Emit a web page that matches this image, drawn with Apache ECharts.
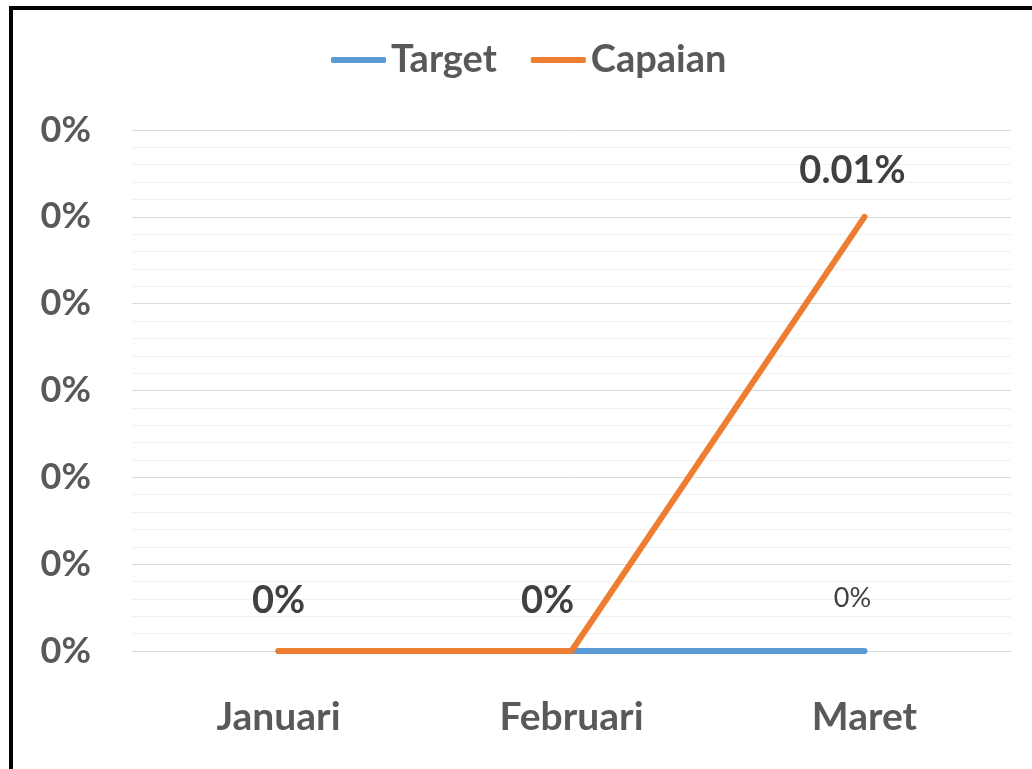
<!DOCTYPE html>
<html>
<head>
<meta charset="utf-8">
<script src="https://cdn.jsdelivr.net/npm/echarts@6/dist/echarts.min.js"></script>
<style>
  html, body { margin: 0; padding: 0; background: #fff; }
  #frame { position: absolute; left: 9px; top: 6px; width: 1040px; height: 780px;
           border-left: 4px solid #000; border-top: 4px solid #000; pointer-events: none; }
</style>
</head>
<body>
<div id="main" style="width:1032px;height:769px;"></div>
<div id="frame"></div>
<script>
// data
var bulan = ['Januari', 'Februari', 'Maret'];
var target = [0, 0, 0];
var capaian = [0, 0, 0.0001];

var myChart = echarts.init(document.getElementById('main'));
var font = 'Lato';
var pct = function (p) { return (Math.round(p.value * 10000) / 100) + '%'; };
// label shifts copied from the excel layout
var capShift = [[0, 0], [-24, 0], [-12, 4]];

var option = {
  animation: false,
  legend: {
    top: 36,
    left: 326,
    itemWidth: 55,
    itemHeight: 6,
    itemGap: 34,
    icon: 'roundRect',
    textStyle: { fontFamily: font, fontSize: 38, fontWeight: 'bold', color: '#595959' },
    data: ['Target', 'Capaian']
  },
  grid: { left: 132, right: 21, top: 130, bottom: 118 },
  xAxis: {
    type: 'category',
    data: bulan,
    axisLine: { lineStyle: { color: '#d9d9d9', width: 1 } },
    axisTick: { show: false },
    axisLabel: { margin: 47, fontFamily: font, fontSize: 39, fontWeight: 'bold', color: '#595959' }
  },
  yAxis: {
    type: 'value',
    min: 0,
    max: 0.00012,
    interval: 0.00002,
    axisLine: { show: false },
    axisTick: { show: false },
    axisLabel: {
      margin: 41,
      fontFamily: font, fontSize: 36, fontWeight: 'bold', color: '#595959',
      formatter: function (v) { return Math.round(v * 100) + '%'; }
    },
    splitLine: { lineStyle: { color: '#d9d9d9', width: 1 } },
    minorTick: { show: false, splitNumber: 5 },
    minorSplitLine: { show: true, lineStyle: { color: '#f0f0f0', width: 1 } }
  },
  series: [
    {
      name: 'Target',
      type: 'line',
      data: target.map(function (v, i) {
        return i === 2
          ? { value: v, label: { show: true, formatter: pct, fontFamily: font, fontSize: 27, fontWeight: 'normal', color: '#404040', distance: 38, offset: [-12, 0] } }
          : v;
      }),
      showSymbol: true,
      symbol: 'circle',
      symbolSize: 2,
      color: '#5b9bd5',
      lineStyle: { width: 6, cap: 'round', join: 'round' },
      label: { show: false, position: 'top' }
    },
    {
      name: 'Capaian',
      type: 'line',
      data: capaian.map(function (v, i) {
        return { value: v, label: { offset: capShift[i] } };
      }),
      showSymbol: true,
      symbol: 'circle',
      symbolSize: 2,
      color: '#ed7d31',
      lineStyle: { width: 6, cap: 'round', join: 'round' },
      label: {
        show: true,
        position: 'top',
        distance: 30,
        formatter: pct,
        fontFamily: font, fontSize: 38, fontWeight: 'bold', color: '#404040'
      }
    }
  ]
};
myChart.setOption(option);
</script>
</body>
</html>
